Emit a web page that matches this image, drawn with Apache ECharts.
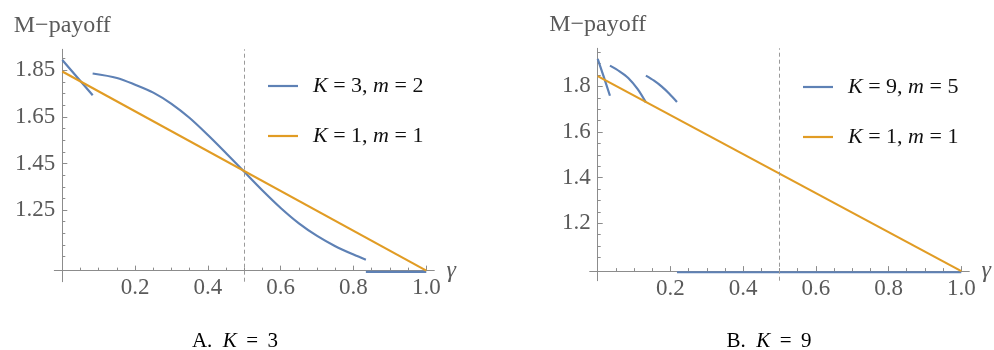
<!DOCTYPE html>
<html>
<head>
<meta charset="utf-8">
<script src="https://cdn.jsdelivr.net/npm/echarts@6/dist/echarts.min.js"></script>
<style>
  html, body { margin: 0; padding: 0; background: #ffffff; }
  #chart { width: 994px; height: 350px; }
</style>
</head>
<body>
<div id="chart"></div>
<script>
// ---- data: (gamma, M-payoff) pairs ----
// Baseline K = 1, m = 1 (straight line, shared by both panels)
const baseK1 = [[0, 1.845], [1.0, 0.99]];

// Panel A: K = 3, m = 2 (three disjoint pieces)
const k3Piece1 = [[0, 1.894], [0.042, 1.818], [0.0835, 1.743]];
const k3Piece2 = [
  [0.0833, 1.836], [0.15, 1.817], [0.2, 1.788], [0.25, 1.754], [0.3, 1.706],
  [0.35, 1.645], [0.4, 1.572], [0.45, 1.494], [0.5, 1.414], [0.55, 1.334],
  [0.6, 1.259], [0.65, 1.193], [0.7, 1.139], [0.75, 1.095], [0.8, 1.059],
  [0.834, 1.037]
];
const k3Piece3 = [[0.834, 0.985], [1.0, 0.985]];

// Panel B: K = 9, m = 5 (four disjoint pieces)
const k9Piece1 = [[0, 1.921], [0.017, 1.841], [0.0337, 1.759]];
const k9Piece2 = [[0.0337, 1.891], [0.06, 1.866], [0.084, 1.837], [0.11, 1.788], [0.1325, 1.730]];
const k9Piece3 = [[0.1325, 1.847], [0.155, 1.825], [0.1755, 1.800], [0.197, 1.768], [0.218, 1.732]];
const k9Piece4 = [[0.218, 0.985], [1.0, 0.985]];

// Reference gamma drawn as a dashed vertical line
const dividerGamma = 0.5;

// ---- tick positions ----
const xMajorTicks = [0.2, 0.4, 0.6, 0.8, 1.0];
const xMinorTicks = [0.05, 0.1, 0.15, 0.25, 0.3, 0.35, 0.45, 0.5, 0.55, 0.65, 0.7, 0.75, 0.85, 0.9, 0.95];
const yMajorTicksA = [1.25, 1.45, 1.65, 1.85];
const yMinorTicksA = [1.05, 1.1, 1.15, 1.2, 1.3, 1.35, 1.4, 1.5, 1.55, 1.6, 1.7, 1.75, 1.8, 1.9];
const yMajorTicksB = [1.2, 1.4, 1.6, 1.8];
const yMinorTicksB = [1.05, 1.1, 1.15, 1.25, 1.3, 1.35, 1.45, 1.5, 1.55, 1.65, 1.7, 1.75, 1.85, 1.9, 1.95];

// ---- styling ----
const BLUE = '#5E81B5';
const ORANGE = '#E19C24';
const AXIS_GRAY = '#8c8c8c';
const LABEL_GRAY = '#5a5a5a';
const SERIF = "'Liberation Serif', 'DejaVu Serif', serif";
const AXIS_CROSS_Y = 0.99;   // payoff level where the gamma axis is drawn
const LINE_W = 2.2;

const NAME_K1 = 'K = 1, m = 1';
const NAME_K3 = 'K = 3, m = 2';
const NAME_K9 = 'K = 9, m = 5';

const panels = [
  { grid: { left: 54.3, top: 49.3, width: 380, height: 232.4 },
    xMin: -0.022, xMax: 1.022, yMin: 0.9425, yMax: 1.94,
    yMajor: yMajorTicksA, yMinor: yMinorTicksA, yDigits: 2 },
  { grid: { left: 589.7, top: 48.3, width: 380.5, height: 232.4 },
    xMin: -0.022, xMax: 1.022, yMin: 0.948, yMax: 1.967,
    yMajor: yMajorTicksB, yMinor: yMinorTicksB, yDigits: 1 }
];

const xAxes = [];
const yAxes = [];
panels.forEach(function (p, gi) {
  // place the axes so they cross at (gamma = 0, payoff = AXIS_CROSS_Y)
  const xOff = -(AXIS_CROSS_Y - p.yMin) / (p.yMax - p.yMin) * p.grid.height;
  const yOff = -(0 - p.xMin) / (p.xMax - p.xMin) * p.grid.width;
  const common = { type: 'value', gridIndex: gi, splitLine: { show: false } };

  xAxes.push(Object.assign({}, common, {
    position: 'bottom', min: p.xMin, max: p.xMax, offset: xOff,
    axisLine: { show: true, onZero: false, lineStyle: { color: AXIS_GRAY, width: 1 } },
    axisTick: { show: true, inside: true, length: 5, customValues: xMajorTicks,
                lineStyle: { color: AXIS_GRAY, width: 1 } },
    axisLabel: { show: true, customValues: xMajorTicks, margin: 6,
                 formatter: function (v) { return v.toFixed(1); },
                 color: LABEL_GRAY, fontFamily: SERIF, fontSize: 23 },
    name: 'γ', nameLocation: 'end', nameGap: 11,
    nameTextStyle: { fontFamily: SERIF, fontStyle: 'italic', fontSize: 24, color: LABEL_GRAY }
  }));
  xAxes.push(Object.assign({}, common, {
    position: 'bottom', min: p.xMin, max: p.xMax, offset: xOff,
    axisLine: { show: false, onZero: false },
    axisTick: { show: true, inside: true, length: 3, customValues: xMinorTicks,
                lineStyle: { color: AXIS_GRAY, width: 1 } },
    axisLabel: { show: false }
  }));

  yAxes.push(Object.assign({}, common, {
    position: 'left', min: p.yMin, max: p.yMax, offset: yOff,
    axisLine: { show: true, onZero: false, lineStyle: { color: AXIS_GRAY, width: 1 } },
    axisTick: { show: true, inside: true, length: 5, customValues: p.yMajor,
                lineStyle: { color: AXIS_GRAY, width: 1 } },
    axisLabel: { show: true, customValues: p.yMajor, margin: 7,
                 formatter: function (v) { return v.toFixed(p.yDigits); },
                 color: LABEL_GRAY, fontFamily: SERIF, fontSize: 23 },
    name: 'M\u2212payoff', nameLocation: 'end', nameGap: 12,
    nameTextStyle: { fontFamily: SERIF, fontSize: 24, color: LABEL_GRAY }
  }));
  yAxes.push(Object.assign({}, common, {
    position: 'left', min: p.yMin, max: p.yMax, offset: yOff,
    axisLine: { show: false, onZero: false },
    axisTick: { show: true, inside: true, length: 3, customValues: p.yMinor,
                lineStyle: { color: AXIS_GRAY, width: 1 } },
    axisLabel: { show: false }
  }));
});

function line(name, data, color, panel, smooth) {
  return {
    type: 'line', name: name, data: data,
    xAxisIndex: panel * 2, yAxisIndex: panel * 2,
    symbol: 'none', showSymbol: false, smooth: smooth || false, clip: false,
    lineStyle: { color: color, width: LINE_W }, itemStyle: { color: color },
    animation: false
  };
}

function withDivider(s) {
  s.markLine = {
    silent: true, symbol: ['none', 'none'], label: { show: false },
    lineStyle: { color: '#9a9a9a', type: [4, 3], width: 1 },
    data: [{ xAxis: dividerGamma }]
  };
  return s;
}

const series = [
  line(NAME_K3, k3Piece1, BLUE, 0),
  line(NAME_K3, k3Piece2, BLUE, 0, 0.3),
  line(NAME_K3, k3Piece3, BLUE, 0),
  withDivider(line(NAME_K1, baseK1, ORANGE, 0)),
  line(NAME_K9, k9Piece1, BLUE, 1),
  line(NAME_K9, k9Piece2, BLUE, 1, 0.3),
  line(NAME_K9, k9Piece3, BLUE, 1, 0.3),
  line(NAME_K9, k9Piece4, BLUE, 1),
  withDivider(line(NAME_K1, baseK1, ORANGE, 1))
];

const legendText = {
  fontFamily: SERIF, fontSize: 22, color: '#111', lineHeight: 24, padding: [0, 0, 0, 10],
  rich: { i: { fontFamily: SERIF, fontSize: 22, fontStyle: 'italic', color: '#111' } }
};
function legendFormatter(name) {
  return name.replace(/([Km])/g, '{i|$1}');
}
function legend(names, left, top) {
  return {
    data: names, orient: 'vertical', left: left, top: top,
    icon: 'rect', itemWidth: 30, itemHeight: 2.2, itemGap: 26, selectedMode: false,
    textStyle: legendText, formatter: legendFormatter
  };
}

const captionRich = {
  n: { fontFamily: SERIF, fontSize: 21, color: '#111' },
  i: { fontFamily: SERIF, fontSize: 21, fontStyle: 'italic', color: '#111' }
};

const chart = echarts.init(document.getElementById('chart'), null, { renderer: 'canvas' });
chart.setOption({
  animation: false,
  backgroundColor: '#ffffff',
  grid: panels.map(function (p) { return Object.assign({ containLabel: false }, p.grid); }),
  xAxis: xAxes,
  yAxis: yAxes,
  legend: [
    legend([NAME_K3, NAME_K1], 263, 69),
    legend([NAME_K9, NAME_K1], 798, 70)
  ],
  graphic: [
    { type: 'text', x: 235, y: 341,
      style: { text: '{n|A.  }{i|K}{n| \u2009=\u2009 3}', rich: captionRich, align: 'center', verticalAlign: 'middle' } },
    { type: 'text', x: 769, y: 341,
      style: { text: '{n|B.  }{i|K}{n| \u2009=\u2009 9}', rich: captionRich, align: 'center', verticalAlign: 'middle' } }
  ],
  series: series
});
</script>
</body>
</html>
